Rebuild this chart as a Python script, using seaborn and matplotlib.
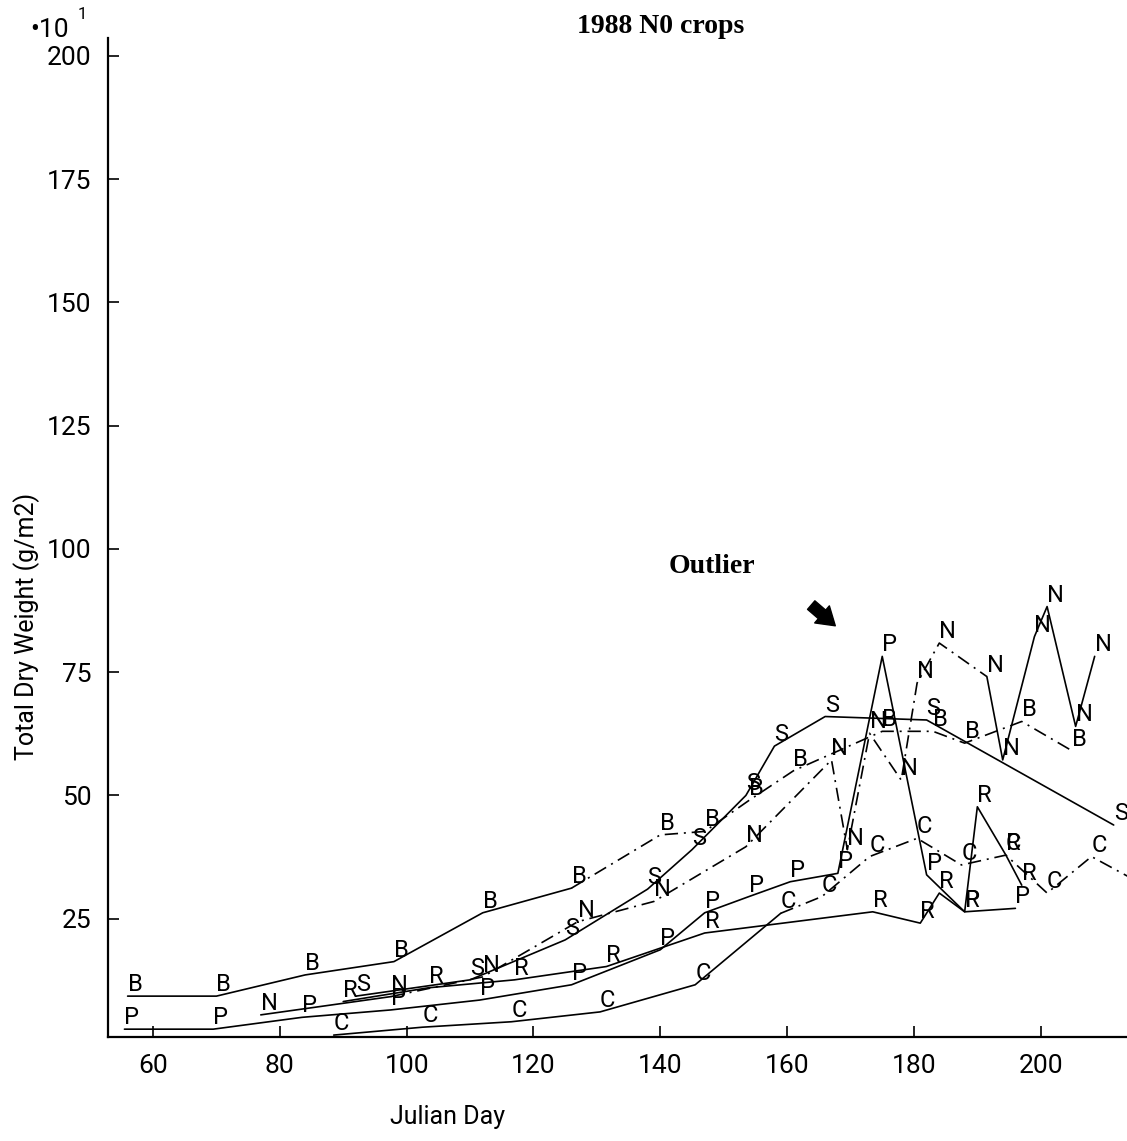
import matplotlib
matplotlib.use("Agg")
import matplotlib.pyplot as plt
import seaborn as sns
import pandas as pd

# ── data (x = Julian day, y = dry weight *10) ────────────────────────────────
b_day = [56, 70, 84, 98, 112, 126, 140, 147, 154, 161, 175, 183, 188, 197, 205]
b_val = [9.3, 9.3, 13.6, 16.3, 26.2, 31.2, 42.0, 42.7, 49.0, 55.0, 63.0, 63.0, 60.6, 65.0, 59.0]

s_day = [92, 110, 125, 138, 145, 153.5, 158, 166, 182, 211.5]
s_val = [9.3, 12.6, 20.7, 31.0, 39.0, 50.0, 60.0, 66.0, 65.3, 44.0]

n_day = [77, 97.5, 112, 127, 139, 153.5, 167, 169.5, 173, 178, 180.5, 184, 191.5, 194, 199, 201, 205.5, 208.5]
n_val = [5.5, 9.2, 13.2, 24.4, 28.5, 39.6, 57.2, 39.0, 62.6, 53.1, 72.8, 80.9, 74.1, 57.2, 82.2, 88.3, 64.0, 78.2]

p_day = [55.5, 69.5, 83.5, 97.5, 111.5, 126, 140, 147, 154, 160.5, 168, 175, 182, 188, 196]
p_val = [2.6, 2.6, 5.0, 6.5, 8.5, 11.6, 18.7, 26.2, 29.5, 32.5, 34.2, 78.2, 33.9, 26.4, 27.1]

r_day = [90, 103.5, 117, 131.5, 147, 173.5, 181, 184, 188, 190, 194.5, 197]
r_val = [8.2, 11.0, 12.6, 15.3, 22.1, 26.4, 24.1, 30.2, 26.4, 47.7, 37.9, 31.8]

c_day = [88.5, 102.5, 116.5, 130.5, 145.5, 159, 165.5, 173, 180.5, 187.5, 194.5, 201, 208, 216]
c_val = [1.4, 3.0, 4.1, 6.1, 11.6, 26.1, 29.5, 37.6, 41.3, 35.9, 37.9, 30.2, 37.6, 32.0]

series = {"B": (b_day, b_val), "S": (s_day, s_val), "N": (n_day, n_val),
          "P": (p_day, p_val), "R": (r_day, r_val), "C": (c_day, c_val)}

# day from which the curve is drawn dash-dot (None = solid all the way)
dashdot_from = {"B": 126, "S": None, "N": 97.5, "P": None, "R": None, "C": 159}
solid_again = {"N": 191.5}

x_ticks = [60, 80, 100, 120, 140, 160, 180, 200]
y_ticks = [25, 50, 75, 100, 125, 150, 175, 200]

XMAX = 213.6

sns.set_style("ticks", {"axes.edgecolor": "black", "xtick.color": "black",
                        "ytick.color": "black", "text.color": "black"})
plt.rcParams["font.family"] = ["Roboto", "DejaVu Sans"]

fig = plt.figure(figsize=(11.27, 11.41), dpi=100)
ax = fig.add_axes([0.0958, 0.0911, 0.9042, 0.8756])

DASHDOT = (0, (8, 3.5, 1.2, 3.5))

for letter, (days, vals) in series.items():
    df = pd.DataFrame({"day": days, "val": vals})
    start = dashdot_from[letter]
    end = solid_again.get(letter)
    if start is None:
        parts = [(df, "-")]
    else:
        parts = [(df[df.day <= start], "-")]
        if end is None:
            parts.append((df[df.day >= start], DASHDOT))
        else:
            parts.append((df[(df.day >= start) & (df.day <= end)], DASHDOT))
            parts.append((df[df.day >= end], "-"))
    for sub, ls in parts:
        if len(sub) > 1:
            sns.lineplot(data=sub, x="day", y="val", ax=ax, color="black",
                         linewidth=1.2, linestyle=ls, sort=False, estimator=None)
    for d, v in zip(days, vals):
        if d < XMAX:
            ax.text(d, v, letter, ha="left", va="bottom", fontsize=17,
                    color="black")

ax.set_xlim(52.9, XMAX)
ax.set_ylim(1.0, 203.6)
ax.set_xticks(x_ticks)
ax.set_yticks(y_ticks)
ax.tick_params(direction="in", length=8, width=1.2, labelsize=19,
               labelcolor="black")
ax.tick_params(axis="y", pad=12)
ax.tick_params(axis="x", pad=12)
sns.despine(ax=ax)
ax.spines["left"].set_linewidth(1.6)
ax.spines["bottom"].set_linewidth(1.6)
ax.set_xlabel("")
ax.set_ylabel("")

fig.text(0.024, 0.451, "Total Dry Weight (g/m2)", rotation=90, ha="center",
         va="center", fontsize=18)
fig.text(0.397, 0.021, "Julian Day", ha="center", va="center", fontsize=18)
fig.text(0.027, 0.974, "•10", ha="left", va="center", fontsize=19)
fig.text(0.069, 0.987, "1", ha="left", va="center", fontsize=12)

fig.text(0.586, 0.977, "1988 N0 crops", ha="center", va="center",
         fontsize=20, fontweight="bold", family="Liberation Serif")
ax.text(148.2, 96.5, "Outlier", ha="center", va="center", fontsize=20,
        fontweight="bold", family="Liberation Serif")
ax.annotate("", xy=(167.6, 84.4), xytext=(163.8, 88.6),
            arrowprops=dict(arrowstyle="simple,head_length=0.7,head_width=0.9,tail_width=0.45",
                            color="black", mutation_scale=18, shrinkA=0, shrinkB=0))

fig.savefig("out.png", dpi=100)
